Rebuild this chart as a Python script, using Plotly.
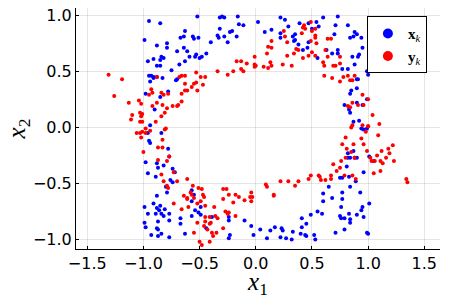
import plotly.graph_objects as go

# x_k samples (blue)
xk_x1 = [-0.95,-0.85,-0.52,-0.63,-0.99,-0.64,-0.67,-0.56,-0.55,-0.51,-0.79,-0.88,-0.79,-0.64,-0.70,-0.61,-0.53,-0.54,-0.59,-0.50,-0.48,-0.84,-0.82,-0.85,-0.91,-0.96,-0.63,-0.68,-0.85,-0.88,-0.75,-0.95,-0.93,-0.91,-0.91,-0.88,-0.83,-0.94,-0.70,-0.71,-0.78,-0.85,-0.98,-0.90,-0.94,
         -0.32,-0.30,-0.28,-0.16,-0.15,-0.11,-0.32,-0.34,-0.33,-0.28,-0.23,-0.21,-0.17,-0.25,-0.40,-0.44,0.02,0.22,0.26,0.08,0.14,0.22,0.22,0.29,0.35,0.33,0.39,0.47,0.35,0.34,0.38,0.47,0.42,0.46,
         0.60,0.73,0.54,0.56,0.50,0.71,0.82,0.88,0.90,0.87,0.84,0.94,0.70,0.95,0.63,0.73,0.73,0.68,0.55,0.92,0.91,0.86,0.88,0.77,0.82,0.99,1.00,0.90,0.91,0.90,0.85,0.84,0.99,0.79,0.90,0.95,0.83,0.84,0.87,0.92,
         -0.96,-0.84,-0.95,-0.94,-0.78,-0.77,-0.98,-0.88,-0.82,-0.87,-0.74,-0.72,-0.96,-0.89,-0.76,-0.74,-0.80,-0.79,-0.88,-0.91,-0.99,-0.85,-0.88,-0.86,-0.81,-0.96,-0.89,-0.84,-0.82,-0.77,-0.87,-0.77,-0.67,-0.57,-0.99,-0.67,-0.98,-0.88,-0.87,-0.93,-0.87,-0.84,-0.77,-0.63,-0.54,-0.51,-0.49,-0.57,-0.57,-0.55,-0.49,
         -0.39,-0.24,-0.24,-0.44,-0.10,-0.04,0.04,-0.02,-0.23,-0.24,0.13,0.17,0.23,0.24,0.33,0.40,0.44,0.45,0.41,0.41,0.45,0.22,0.27,0.32,0.10,
         0.94,0.96,0.99,0.87,0.82,0.82,0.84,0.88,0.90,0.81,1.01,1.05,0.96,0.89,0.77,0.75,0.83,0.65,0.77,0.84,0.93,0.60,0.68,0.77,0.60,1.01,0.76,0.95,0.94,0.55,0.59,0.49,0.75,0.83,0.90,0.96,0.76,0.79,0.84,0.84,0.79,0.71,0.99,1.00,0.52,0.53]
xk_x2 = [0.95,0.93,0.99,0.86,0.78,0.81,0.80,0.81,0.79,0.80,0.75,0.73,0.71,0.71,0.68,0.68,0.65,0.63,0.63,0.62,0.63,0.63,0.62,0.60,0.61,0.59,0.59,0.56,0.55,0.55,0.51,0.46,0.46,0.45,0.44,0.45,0.44,0.41,0.43,0.42,0.32,0.27,0.30,0.16,0.02,
         0.98,0.99,0.98,0.99,0.92,0.91,0.88,0.82,0.80,0.81,0.85,0.86,0.81,0.76,0.76,0.66,0.94,0.98,0.96,0.85,0.87,0.84,0.80,0.90,0.83,0.81,0.93,0.93,0.78,0.77,0.74,0.76,0.69,0.71,
         0.98,0.99,0.94,0.90,0.88,0.91,0.91,0.85,0.83,0.81,0.80,0.80,0.83,0.71,0.69,0.69,0.66,0.66,0.62,0.65,0.63,0.63,0.56,0.52,0.52,0.50,0.47,0.43,0.43,0.35,0.33,0.30,0.25,0.20,0.22,0.20,0.16,0.13,0.05,0.06,
         -0.05,-0.05,-0.12,-0.14,-0.19,-0.26,-0.31,-0.32,-0.34,-0.36,-0.37,-0.40,-0.41,-0.44,-0.47,-0.49,-0.53,-0.58,-0.61,-0.68,-0.71,-0.70,-0.72,-0.74,-0.73,-0.77,-0.77,-0.77,-0.79,-0.77,-0.84,-0.83,-0.81,-0.79,-0.85,-0.86,-0.89,-0.90,-0.91,-0.96,-0.97,-0.95,-0.98,-0.95,-0.74,-0.76,-0.71,-0.56,-0.66,-0.60,-0.78,
         -0.80,-0.80,-0.83,-0.90,-0.83,-0.88,-0.91,-0.96,-0.96,-0.99,-0.92,-0.89,-0.90,-0.92,-0.93,-0.95,-0.96,-0.97,-0.81,-0.89,-0.86,-0.98,-0.99,-1.00,-0.99,
         -0.01,-0.02,-0.01,-0.21,-0.23,-0.27,-0.27,-0.27,-0.27,-0.35,-0.26,-0.30,-0.40,-0.48,-0.45,-0.45,-0.44,-0.53,-0.58,-0.53,-0.58,-0.59,-0.63,-0.64,-0.66,-0.68,-0.71,-0.71,-0.74,-0.75,-0.77,-0.78,-0.79,-0.77,-0.78,-0.80,-0.81,-0.81,-0.82,-0.85,-0.91,-0.94,-0.94,-0.95,-0.96,-1.00]

# y_k samples (red)
yk_x1 = [-1.31,-1.19,-1.26,-1.13,-1.04,-1.02,-0.95,-0.93,-0.92,-0.88,-0.84,-0.82,-0.78,-0.88,-0.83,-0.92,-0.79,-0.74,-0.70,-0.69,-0.66,-0.66,-0.63,-0.61,-0.63,-0.57,-0.55,-0.53,-0.52,-0.53,-0.49,-0.68,-0.66,-0.63,-1.10,-1.03,-1.01,-1.02,-1.11,-1.03,-1.01,-0.89,-0.84,-0.81,
         0.43,0.42,0.44,0.41,0.25,0.26,0.14,0.11,0.14,0.28,0.10,0.36,0.38,0.34,0.28,0.42,0.47,-0.01,-0.17,-0.13,-0.08,-0.01,-0.01,0.00,0.07,0.11,0.14,0.13,0.24,0.32,-0.13,-0.11,-0.20,-0.25,-0.34,-0.45,-0.47,
         0.49,0.53,0.50,0.53,0.53,0.64,0.67,0.49,0.54,0.62,0.50,0.53,0.64,0.75,0.60,0.61,0.69,0.71,0.75,0.61,0.68,0.75,0.78,0.82,0.84,0.86,0.88,0.95,1.00,0.86,0.82,0.84,0.91,0.96,1.04,0.86,0.95,1.00,1.10,
         -1.06,-1.03,-1.01,-0.98,-1.02,-0.98,-0.94,-0.81,-0.80,-0.83,-0.87,-0.83,-1.00,-0.87,-0.77,-0.79,-0.84,-0.73,-0.82,-0.79,-0.78,-0.70,-0.61,-0.64,-0.61,-0.73,-0.66,-0.61,-0.56,-0.51,-0.48,-0.58,-0.57,-0.55,-0.60,-0.52,-0.49,-0.52,-0.55,-0.50,-0.48,
         -0.47,-0.46,-0.45,-0.37,-0.29,-0.26,-0.24,-0.29,-0.18,-0.15,-0.20,-0.10,-0.04,-0.05,-0.03,-0.04,0.09,0.10,0.16,0.16,0.22,0.29,0.38,0.35,0.47,-0.27,-0.25,-0.24,-0.18,-0.36,-0.34,-0.41,-0.40,-0.41,-0.45,-0.45,-0.46,-0.43,-0.29,-0.35,-0.39,-0.38,-0.41,
         0.85,1.00,0.98,0.94,0.80,1.09,0.77,0.87,0.96,0.81,0.85,0.80,0.88,0.99,1.02,1.03,1.06,1.12,1.18,1.19,1.22,1.08,1.11,1.13,1.16,1.23,1.11,1.05,0.69,0.76,0.75,0.72,0.67,0.67,0.62,0.56,0.57,0.58,0.49,0.79,0.86,0.89,1.34,1.35]
yk_x2 = [0.47,0.43,0.28,0.22,0.24,0.21,0.29,0.34,0.31,0.45,0.31,0.29,0.30,0.22,0.20,0.19,0.17,0.19,0.19,0.20,0.23,0.30,0.33,0.33,0.39,0.36,0.39,0.40,0.33,0.49,0.45,0.45,0.46,0.46,0.11,0.13,0.12,0.10,0.07,0.05,0.05,0.05,0.10,0.13,
         0.91,0.89,0.88,0.84,0.86,0.81,0.77,0.72,0.71,0.76,0.66,0.70,0.69,0.66,0.64,0.62,0.64,0.63,0.59,0.59,0.57,0.56,0.54,0.55,0.54,0.53,0.55,0.58,0.56,0.55,0.52,0.50,0.50,0.47,0.50,0.45,0.38,
         0.94,0.88,0.86,0.82,0.80,0.79,0.79,0.77,0.75,0.69,0.67,0.64,0.63,0.63,0.58,0.55,0.55,0.55,0.57,0.46,0.44,0.41,0.45,0.46,0.42,0.42,0.46,0.29,0.25,0.22,0.19,0.18,0.20,0.20,0.11,0.02,0.02,0.01,0.03,
         -0.05,-0.05,-0.04,-0.05,-0.09,-0.01,-0.03,-0.02,-0.01,-0.11,-0.18,-0.18,-0.22,-0.29,-0.26,-0.30,-0.42,-0.40,-0.48,-0.52,-0.54,-0.48,-0.46,-0.61,-0.63,-0.68,-0.73,-0.64,-0.52,-0.54,-0.55,-0.58,-0.60,-0.63,-0.71,-0.68,-0.66,-0.85,-0.94,-1.02,-1.05,
         -0.60,-0.62,-0.70,-0.71,-0.55,-0.55,-0.60,-0.64,-0.60,-0.62,-0.67,-0.65,-0.58,-0.62,-0.62,-0.66,-0.51,-0.53,-0.60,-0.61,-0.48,-0.48,-0.48,-0.52,-0.46,-0.75,-0.77,-0.76,-0.79,-0.79,-0.81,-0.80,-0.85,-0.86,-0.80,-0.84,-0.88,-0.91,-0.90,-0.94,-0.94,-0.97,-1.02,
         0.00,0.01,-0.04,-0.10,-0.09,-0.07,-0.15,-0.15,-0.15,-0.19,-0.22,-0.27,-0.27,-0.21,-0.27,-0.30,-0.30,-0.21,-0.19,-0.23,-0.16,-0.25,-0.30,-0.32,-0.27,-0.30,-0.39,-0.41,-0.33,-0.30,-0.36,-0.39,-0.43,-0.46,-0.47,-0.43,-0.44,-0.47,-0.43,-0.43,-0.43,-0.46,-0.46,-0.49]

x_ticks = [-1.5, -1.0, -0.5, 0.0, 0.5, 1.0, 1.5]
y_ticks = [-1.0, -0.5, 0.0, 0.5, 1.0]

BLUE = "#0000ff"
RED = "#ff0000"

fig = go.Figure()
fig.add_trace(go.Scatter(x=xk_x1, y=xk_x2, mode="markers", showlegend=False,
                         marker=dict(color=BLUE, size=4, line=dict(width=0))))
fig.add_trace(go.Scatter(x=yk_x1, y=yk_x2, mode="markers", showlegend=False,
                         marker=dict(color=RED, size=4, line=dict(width=0))))
# legend entries
fig.add_trace(go.Scatter(x=[None], y=[None], mode="markers", name="<b>x</b><sub><i>k</i></sub>",
                         marker=dict(color=BLUE, size=10, line=dict(width=0))))
fig.add_trace(go.Scatter(x=[None], y=[None], mode="markers", name="<b>y</b><sub><i>k</i></sub>",
                         marker=dict(color=RED, size=10, line=dict(width=0))))

axis_common = dict(showline=True, linecolor="black", linewidth=1, mirror=False,
                   showgrid=True, gridcolor="rgba(0,0,0,0.1)", gridwidth=1,
                   zeroline=False, ticks="inside", ticklen=3, tickcolor="black",
                   automargin=False,
                   tickformat=".1f", tickfont=dict(family="DejaVu Sans", size=16, color="black"))

fig.update_layout(
    width=449, height=299,
    margin=dict(l=76, r=9, t=8, b=50),
    paper_bgcolor="white", plot_bgcolor="white",
    xaxis=dict(range=[-1.6, 1.64], tickvals=x_ticks, **axis_common,
               title=dict(text="<i>x</i><sub>1</sub>", font=dict(family="Liberation Serif", size=25, color="black"), standoff=0)),
    yaxis=dict(range=[-1.085, 1.065], tickvals=y_ticks, **axis_common,
               title=dict(text="<i>x</i><sub>2</sub>", font=dict(family="Liberation Serif", size=25, color="black"), standoff=0)),
    legend=dict(x=0.964, y=0.966, xanchor="right", yanchor="top",
                bgcolor="white", bordercolor="black", borderwidth=1,
                font=dict(family="Liberation Serif", size=15, color="black"),
                itemsizing="trace", tracegroupgap=0, itemwidth=30),
)

fig.write_html("out.html", config={"displayModeBar": False},
               post_script="document.body.style.margin='0';document.body.style.overflow='hidden';")
